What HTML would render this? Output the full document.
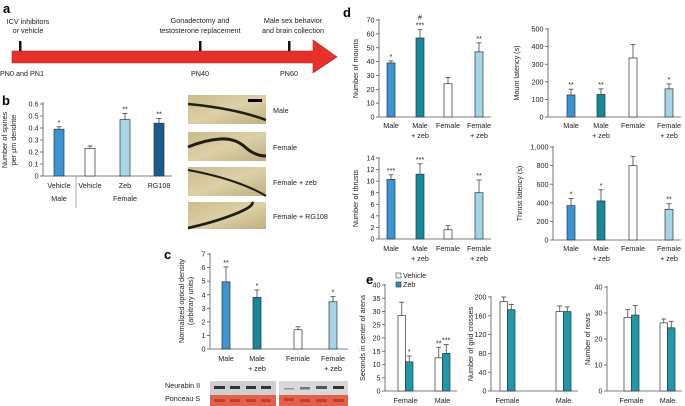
<!DOCTYPE html>
<html><head><meta charset="utf-8">
<style>
html,body{margin:0;padding:0;background:#fff;}
svg{display:block;font-family:"Liberation Sans",sans-serif;}
.t{font-size:7.2px;fill:#222;}
.p{font-size:13px;font-weight:bold;fill:#000;}
</style></head>
<body>
<svg id="fig" width="685" height="406" viewBox="0 0 685 406">
<g>
<text class="p" x="3" y="13">a</text>
<text class="t" x="28" y="24" text-anchor="middle">ICV inhibitors</text>
<text class="t" x="28" y="33" text-anchor="middle">or vehicle</text>
<text class="t" x="200" y="23" text-anchor="middle">Gonadectomy and</text>
<text class="t" x="200" y="33" text-anchor="middle">testosterone replacement</text>
<text class="t" x="293" y="23" text-anchor="middle">Male sex behavior</text>
<text class="t" x="293" y="33" text-anchor="middle">and brain collection</text>
<polygon points="12,51 313,51 313,40 337,57 313,73 313,63 12,63" fill="#e8302a" stroke="#b02020" stroke-width="0.6"/>
<rect x="19" y="41" width="2.5" height="10" fill="#111"/>
<rect x="199" y="41" width="2.5" height="10" fill="#111"/>
<rect x="288" y="41" width="2.5" height="10" fill="#111"/>
<text class="t" x="0" y="76">PN0 and PN1</text>
<text class="t" x="200" y="76" text-anchor="middle">PN40</text>
<text class="t" x="289" y="76" text-anchor="middle">PN60</text>
</g>
<g>
<defs>
<linearGradient id="tan" x1="0" y1="0" x2="1" y2="1"><stop offset="0" stop-color="#c9bb8c"/><stop offset="0.5" stop-color="#ddd0a6"/><stop offset="1" stop-color="#bfb083"/></linearGradient>
</defs>
<rect x="188" y="95" width="78" height="29" fill="url(#tan)"/>
<path d="M188 104 Q210 106 230 110 T266 120" stroke="#1e1e14" stroke-width="2.5" fill="none"/>
<rect x="248" y="99" width="14" height="3" fill="#000"/>
<rect x="188" y="132" width="78" height="29" fill="url(#tan)"/>
<path d="M188 147 Q205 140 220 139 T245 147 T266 156" stroke="#1e1e14" stroke-width="3" fill="none"/>
<rect x="188" y="167" width="78" height="29" fill="url(#tan)"/>
<path d="M188 170 Q215 175 235 182 T266 196" stroke="#1e1e14" stroke-width="2" fill="none"/>
<rect x="188" y="202" width="78" height="27" fill="url(#tan)"/>
<path d="M188 228 Q215 222 235 214 T252 202" stroke="#1e1e14" stroke-width="2.8" fill="none"/>
<text class="t" x="273" y="113" font-size="8">Male</text>
<text class="t" x="273" y="150">Female</text>
<text class="t" x="273" y="185">Female + zeb</text>
<text class="t" x="273" y="219">Female + RG108</text>
</g>
<g>
<text class="t" x="165" y="388">Neurabin II</text>
<text class="t" x="165" y="401">Ponceau S</text>
<rect x="210" y="381" width="66" height="14" fill="#cfcfcf"/>
<rect x="210" y="395" width="66" height="11" fill="#e2614a"/>
<rect x="279" y="381" width="69" height="14" fill="#d8d8d8"/>
<rect x="279" y="395" width="69" height="11" fill="#e2614a"/>
<g fill="#333">
<rect x="214" y="386" width="11" height="3"/><rect x="230" y="386" width="10" height="3"/><rect x="246" y="386" width="10" height="3"/><rect x="261" y="386" width="10" height="3"/>
<rect x="284" y="388" width="10" height="1.5" opacity="0.4"/><rect x="300" y="387" width="10" height="2.5" opacity="0.6"/><rect x="316" y="386" width="11" height="3" opacity="0.8"/><rect x="333" y="386" width="11" height="3"/>
</g>
<g fill="#cc3a2e">
<rect x="214" y="399" width="11" height="3"/><rect x="230" y="399" width="10" height="3"/><rect x="246" y="399" width="10" height="3"/><rect x="261" y="399" width="10" height="3"/>
<rect x="284" y="398" width="10" height="3"/><rect x="300" y="399" width="10" height="3"/><rect x="316" y="399" width="11" height="3"/><rect x="333" y="399" width="11" height="3"/>
</g>
</g>
<text class="p" x="2" y="105">b</text>
<text class="p" x="164" y="259">c</text>
<text class="p" x="343" y="17">d</text>
<text class="p" x="366" y="284">e</text>
<g>
<rect x="396" y="273" width="5" height="5" fill="#fff" stroke="#333" stroke-width="0.6"/>
<text class="t" x="403" y="278" font-size="8">Vehicle</text>
<rect x="396" y="282" width="5" height="5" fill="#1c9aac" stroke="#333" stroke-width="0.6"/>
<text class="t" x="403" y="287" font-size="8">Zeb</text>
</g>
<g id="charts"></g>
</svg>
<script>
var bValues = [0.39, 0.23, 0.47, 0.44];
var bErrors = [0.02, 0.02, 0.05, 0.04];
var bTicks = [0, 0.1, 0.2, 0.3, 0.4, 0.5, 0.6];
var bCategories = ["Vehicle", "Vehicle", "Zeb", "RG108"];
var bStars = ["*", "", "**", "**"];

var cValues = [4.95, 3.8, 1.42, 3.48];
var cErrors = [1.1, 0.55, 0.22, 0.38];
var cTicks = [0, 1, 2, 3, 4, 5, 6, 7];
var cStars = ["**", "*", "", "*"];

var mountValues = [39, 57, 24, 47];
var mountErrors = [1.5, 6, 4.5, 6.5];
var mountTicks = [0, 10, 20, 30, 40, 50, 60, 70];
var mountStars = ["*", "#\n***", "", "**"];

var mlatValues = [125, 128, 335, 160];
var mlatErrors = [33, 32, 77, 28];
var mlatTicks = [0, 100, 200, 300, 400, 500];
var mlatStars = ["**", "**", "", "*"];

var thrustValues = [10.3, 11.2, 1.6, 8.0];
var thrustErrors = [0.8, 1.8, 0.7, 2.2];
var thrustTicks = [0, 2, 4, 6, 8, 10, 12, 14];
var thrustStars = ["***", "***", "", "**"];

var tlatValues = [370, 420, 800, 330];
var tlatErrors = [75, 120, 100, 60];
var tlatTicks = [0, 200, 400, 600, 800, 1000];
var tlatTickLabels = ["0", "200", "400", "600", "800", "1,000"];
var tlatStars = ["*", "*", "", "**"];

var eGroups = ["Female", "Male"];
var arenaVehicle = [28.5, 12.5];
var arenaVehicleErr = [5, 4];
var arenaZeb = [11, 14.2];
var arenaZebErr = [2.2, 3.3];
var arenaTicks = [0, 5, 10, 15, 20, 25, 30, 35, 40];
var gridVehicle = [190, 169];
var gridVehicleErr = [10, 12];
var gridZeb = [173, 169];
var gridZebErr = [11, 10];
var gridTicks = [0, 40, 80, 120, 160, 200];
var rearVehicle = [28.3, 26.2];
var rearVehicleErr = [3, 1.5];
var rearZeb = [29.2, 24.3];
var rearZebErr = [3.7, 2.5];
var rearTicks = [0, 10, 20, 30, 40];

var dCategories = [["Male"], ["Male", "+ zeb"], ["Female"], ["Female", "+ zeb"]];
var cCategories = [["Male"], ["Male", "+ zeb"], ["Female"], ["Female", "+ zeb"]];

var NS = "http://www.w3.org/2000/svg";
var root = document.getElementById("charts");
function mk(tag, attrs, parent) {
  var e = document.createElementNS(NS, tag);
  for (var k in attrs) e.setAttribute(k, attrs[k]);
  (parent || root).appendChild(e);
  return e;
}
function scale(d0, d1, r0, r1) { return function (v) { return r0 + (v - d0) / (d1 - d0) * (r1 - r0); }; }

function axisY(g, ax, y, ticks, labels, top, bottom) {
  var line = mk("line", {x1: ax, x2: ax, y1: top, y2: bottom, stroke: "#555", "stroke-width": 0.8}, g);
  
  
  for (var i = 0; i < ticks.length; i++) {
    var yy = y(ticks[i]);
    mk("line", {x1: ax - 3, x2: ax, y1: yy, y2: yy, stroke: "#555", "stroke-width": 0.8}, g);
    var t = mk("text", {x: ax - 4.5, y: yy + 2.6, "text-anchor": "end", "class": "t"}, g);
    t.textContent = labels ? labels[i] : String(ticks[i]);
    
    
  }
}
function bar(g, x, w, y, v, err, fill, star) {
  var y0 = y(0), yt = y(v), ye = y(v + err);
  mk("line", {x1: x + w / 2, x2: x + w / 2, y1: yt, y2: ye, stroke: "#444", "stroke-width": 0.8}, g);
  mk("line", {x1: x + w / 2 - 2.5, x2: x + w / 2 + 2.5, y1: ye, y2: ye, stroke: "#444", "stroke-width": 0.8}, g);
  var r = mk("rect", {x: x, y: yt, width: w, height: y0 - yt, fill: fill, stroke: "#333", "stroke-width": 0.7}, g);
  
  
  if (star) {
    var parts = star.split("\n");
    for (var j = 0; j < parts.length; j++) {
      var s = mk("text", {x: x + w / 2, y: ye - 2 - (parts.length - 1 - j) * 8, "text-anchor": "middle", "class": "t", "font-size": "7.5"}, g);
      s.textContent = parts[j];
    }
  }
}
function ylabel(g, x, cy, lines) {
  for (var i = 0; i < lines.length; i++) {
    var t = mk("text", {x: 0, y: 0, "text-anchor": "middle", "class": "t", transform: "translate(" + (x + 3 + i * 9) + "," + cy + ") rotate(-90)"}, g);
    t.textContent = lines[i];
    
    
  }
}
function catLabels(g, centers, cats, y0) {
  for (var i = 0; i < cats.length; i++) {
    for (var j = 0; j < cats[i].length; j++) {
      var t = mk("text", {x: centers[i], y: y0 + j * 10, "text-anchor": "middle", "class": "t"}, g);
      t.textContent = cats[i][j];
      
      
    }
  }
}

var cols4 = ["#3a95d5", "#14899a", "#ffffff", "#a3d6e6"];

(function () {
  var g = mk("g", {});
  
  
  var y = scale(0, 0.6, 176, 104);
  var centers = [59, 90, 125, 159];
  var colsB = ["#3a95d5", "#ffffff", "#a8d8e8", "#1a5b8e"];
  axisY(g, 43, y, bTicks, null, 102, 176);
  mk("line", {x1: 43, x2: 172, y1: 176, y2: 176, stroke: "#555", "stroke-width": 0.8}, g);
  for (var i = 0; i < bValues.length; i++) bar(g, centers[i] - 5, 10, y, bValues[i], bErrors[i], colsB[i], bStars[i]);
  catLabels(g, centers, bCategories.map(function (c) { return [c]; }), 188);
  mk("line", {x1: 76, x2: 76, y1: 176, y2: 208, stroke: "#999", "stroke-width": 0.8}, g);
  var t1 = mk("text", {x: 59, y: 201, "text-anchor": "middle", "class": "t"}, g); t1.textContent = "Male";
  var t2 = mk("text", {x: 125, y: 201, "text-anchor": "middle", "class": "t"}, g); t2.textContent = "Female";
  ylabel(g, 4, 140, ["Number of spines", "per µm dendrite"]);
})();

(function () {
  var g = mk("g", {});
  
  
  var y = scale(0, 7, 349, 254);
  var centers = [226, 257, 298, 333];
  axisY(g, 210, y, cTicks, null, 253, 349);
  mk("line", {x1: 210, x2: 348, y1: 349, y2: 349, stroke: "#555", "stroke-width": 0.8}, g);
  for (var i = 0; i < cValues.length; i++) bar(g, centers[i] - 4, 8, y, cValues[i], cErrors[i], cols4[i], cStars[i]);
  catLabels(g, centers, cCategories, 361);
  ylabel(g, 181, 301, ["Normalized optical density", "(arbitrary units)"]);
})();

function dChart(name, ax, y0px, y1px, ticks, labels, values, errors, stars, centers, title, tx, labY) {
  var g = mk("g", {});
  
  
  var y = scale(0, ticks[ticks.length - 1], y0px, y1px);
  axisY(g, ax, y, ticks, labels, y1px - 1, y0px);
  mk("line", {x1: ax, x2: centers[3] + 12, y1: y0px, y2: y0px, stroke: "#555", "stroke-width": 0.8}, g);
  for (var i = 0; i < values.length; i++) bar(g, centers[i] - 4, 8, y, values[i], errors[i], cols4[i], stars[i]);
  catLabels(g, centers, dCategories, labY);
  ylabel(g, tx, (y0px + y1px) / 2, [title]);
}
dChart("mounts-chart", 379, 117, 20, mountTicks, null, mountValues, mountErrors, mountStars, [391, 420, 448, 479], "Number of mounts", 355, 128);
dChart("mount-latency-chart", 548, 117, 29, mlatTicks, null, mlatValues, mlatErrors, mlatStars, [571, 601, 633, 669], "Mount latency (s)", 516, 128);
dChart("thrusts-chart", 379, 239, 158, thrustTicks, null, thrustValues, thrustErrors, thrustStars, [391, 420, 448, 479], "Number of thrusts", 355, 251);
dChart("thrust-latency-chart", 553, 240, 147, tlatTicks, tlatTickLabels, tlatValues, tlatErrors, tlatStars, [571, 601, 633, 669], "Thrust latency (s)", 519, 251);

function eChart(name, ax, top, ticks, veh, vehE, zeb, zebE, starsV, starsZ, vx, title, tx) {
  var g = mk("g", {});
  
  
  var y = scale(0, ticks[ticks.length - 1], 391, top);
  axisY(g, ax, y, ticks, null, top - 1, 391);
  mk("line", {x1: ax, x2: vx[1] + 22, y1: 391, y2: 391, stroke: "#555", "stroke-width": 0.8}, g);
  for (var i = 0; i < eGroups.length; i++) {
    bar(g, vx[i], 7.5, y, veh[i], vehE[i], "#ffffff", starsV[i]);
    bar(g, vx[i] + 7.5, 7.5, y, zeb[i], zebE[i], "#1c9aac", starsZ[i]);
  }
  catLabels(g, [vx[0] + 7.5, vx[1] + 7.5], eGroups.map(function (c) { return [c]; }), 403);
  ylabel(g, tx, (391 + top) / 2, [title]);
}
eChart("arena-chart", 385, 285, arenaTicks, arenaVehicle, arenaVehicleErr, arenaZeb, arenaZebErr, ["", "**"], ["*", "***"], [398, 435], "Seconds in center of arena", 362);
eChart("grid-crosses-chart", 491, 297, gridTicks, gridVehicle, gridVehicleErr, gridZeb, gridZebErr, ["", ""], ["", ""], [500, 556], "Number of grid crosses", 470);
eChart("rears-chart", 607, 287, rearTicks, rearVehicle, rearVehicleErr, rearZeb, rearZebErr, ["", ""], ["", ""], [624, 660], "Number of rears", 587);
</script>
</body></html>
